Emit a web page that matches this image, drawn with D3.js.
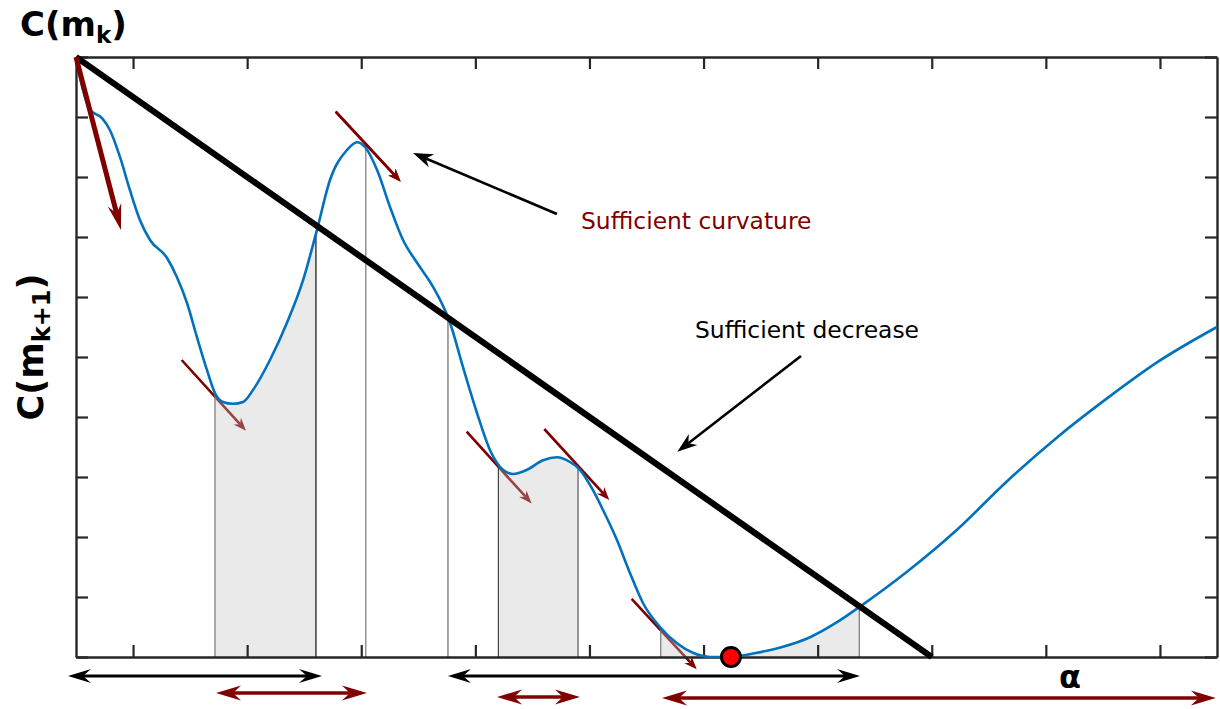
<!DOCTYPE html>
<html><head><meta charset="utf-8">
<script src="https://cdn.jsdelivr.net/npm/d3@7"></script>
<style>html,body{margin:0;padding:0;background:#fff;}svg{display:block;font-family:"DejaVu Sans",sans-serif;}</style>
</head><body><svg id="c" width="1220" height="709"></svg>
<script>
// ---- data ----
const alphaVals = [0,0.061,0.123,0.228,0.298,0.386,0.473,0.561,0.649,0.798,0.885,0.973,1.060,1.148,1.218,1.288,1.376,1.464,1.551,1.700,1.849,1.990,2.112,2.226,2.375,2.463,2.533,2.638,2.752,2.866,2.989,3.129,3.278,3.392,3.514,3.628,3.742,3.830,3.953,4.093,4.216,4.330,4.417,4.531,4.619,4.741,4.855,4.969,5.118,5.267,5.407,5.557,5.732,5.968,6.196,6.433,6.670,6.871,7.283,7.721,8.160,8.598,9.036,9.474,10.0];
const costVals  = [10,9.45,9.12,8.98,8.78,8.33,7.78,7.28,6.95,6.65,6.33,5.90,5.33,4.78,4.40,4.25,4.22,4.25,4.45,4.95,5.57,6.28,7.12,7.95,8.45,8.58,8.50,8.12,7.50,6.95,6.57,6.17,5.57,4.83,4.07,3.45,3.12,3.05,3.12,3.28,3.33,3.25,3.12,2.78,2.45,1.95,1.40,0.90,0.50,0.23,0.07,0.00,0.00,0.07,0.17,0.33,0.58,0.84,1.42,2.12,2.93,3.66,4.31,4.91,5.50];
const xTicks = [0.5,1.5,2.5,3.5,4.5,5.5,6.5,7.5,8.5,9.5];
const yTicks = [0,1,2,3,4,5,6,7,8,9,10];
const decreaseAlpha = [0, 7.5];
const decreaseCost = [10, 0];
const shadeStart = [1.218, 3.702, 5.125];
const shadeEnd   = [2.103, 4.400, 6.865];
const markAlpha  = [1.218, 2.103, 2.540, 3.260, 3.702, 4.400, 5.125, 6.865];
const tangentTailAlpha = [2.276, 0.926, 3.424, 4.104, 4.870];
const tangentTailCost  = [9.088, 4.950, 3.755, 3.800, 0.967];
const tangentTipAlpha  = [2.846, 1.490, 3.993, 4.674, 5.440];
const tangentTipCost   = [7.922, 3.770, 2.560, 2.617, -0.205];
const gradTailAlpha = [0], gradTailCost = [10];
const gradTipAlpha = [0.394], gradTipCost = [7.117];
const intervalStart = [-0.070, 1.227, 3.260, 3.690, 5.136];
const intervalEnd   = [2.156, 2.550, 6.871, 4.417, 9.990];
const minAlpha = [5.74], minCost = [0];
const noteText = ["Sufficient curvature", "Sufficient decrease"];
const noteAlpha = [4.426, 5.425], noteCost = [7.133, 5.317];
const noteTailAlpha = [4.215, 6.354], noteTailCost = [7.383, 5.017];
const noteTipAlpha  = [2.954, 5.270], noteTipCost  = [8.400, 3.420];

// ---- styles / layout ----
const PL = 76, PR = 1217, PT = 57, PB = 657;
const RED = "#800000", BLUE = "#0072BD", AX = "#262626";
const markColors = ["#777","#111","#777","#666","#444","#555","#777","#777"];
const intervalColors = ["#000", RED, "#000", RED, RED];
const intervalRowOffset = [19, 36, 19, 40, 41];

const svg = d3.select("#c");
const x = d3.scaleLinear().domain([0,10]).range([PL,PR]);
const y = d3.scaleLinear().domain([0,10]).range([PB,PT]);
const pts = alphaVals.map((a,i)=>[a,costVals[i]]);

function head(g, tx, ty, ux, uy, L, Wd, I, color){
  const nx=-uy, ny=ux, bx=tx-L*ux, by=ty-L*uy;
  const p=[[tx,ty],[bx+Wd*nx,by+Wd*ny],[tx-(L-I)*ux,ty-(L-I)*uy],[bx-Wd*nx,by-Wd*ny]];
  g.append("path").attr("d","M"+p.map(q=>q.join(",")).join("L")+"Z").attr("fill",color);
}
function arrow(g, x0,y0,x1,y1,o){
  const dx=x1-x0, dy=y1-y0, len=Math.hypot(dx,dy), ux=dx/len, uy=dy/len;
  let sx=x0, sy=y0;
  const ex=x1-(o.L-o.I)*ux, ey=y1-(o.L-o.I)*uy;
  if(o.both){ sx=x0+(o.L-o.I)*ux; sy=y0+(o.L-o.I)*uy; }
  g.append("line").attr("x1",sx).attr("y1",sy).attr("x2",ex).attr("y2",ey)
    .attr("stroke",o.color).attr("stroke-width",o.sw);
  head(g,x1,y1,ux,uy,o.L,o.W,o.I,o.color);
  if(o.both) head(g,x0,y0,-ux,-uy,o.L,o.W,o.I,o.color);
}

// tangent arrows (drawn under translucent shading)
const gT = svg.append("g");
tangentTailAlpha.forEach((a,i)=>{
  arrow(gT, x(a), y(tangentTailCost[i]), x(tangentTipAlpha[i]), y(tangentTipCost[i]),
    {L:13,W:5,I:4,sw:2.6,color:RED});
});

// shading
const line = d3.line().x(d=>x(d[0])).y(d=>y(d[1])).curve(d3.curveMonotoneX);
const area = d3.area().x(d=>x(d[0])).y0(y(0)).y1(d=>y(d[1])).curve(d3.curveMonotoneX);
const cp = svg.append("defs").append("clipPath").attr("id","shadeclip");
shadeStart.forEach((s,i)=>{
  cp.append("rect").attr("x",x(s)).attr("y",PT).attr("width",x(shadeEnd[i])-x(s)).attr("height",PB-PT);
});
svg.append("path").datum(pts).attr("d",area).attr("fill","#c4c4c4").attr("fill-opacity",0.35)
  .attr("clip-path","url(#shadeclip)");

// curve (measure first)
const curve = svg.append("path").datum(pts).attr("d",line).attr("fill","none");
const node = curve.node(), total = node.getTotalLength();
const samples=[];
for(let l=0;l<=total;l+=0.5){ samples.push(node.getPointAtLength(l)); }
function curveYpx(px){ let b=samples[0]; for(const s of samples){ if(Math.abs(s.x-px)<Math.abs(b.x-px)) b=s; } return b.y; }

// vertical marks
markAlpha.forEach((a,i)=>{
  svg.append("line").attr("x1",x(a)).attr("x2",x(a)).attr("y1",curveYpx(x(a))).attr("y2",y(0))
    .attr("stroke",markColors[i]).attr("stroke-width",1.2);
});

// axes (box with inward ticks)
const fmt = ()=>"";
function styleAxis(g){ g.selectAll("path.domain").attr("stroke",AX).attr("stroke-width",2.4);
  g.selectAll(".tick line").attr("stroke",AX).attr("stroke-width",2.2); g.selectAll("text").remove(); }
svg.append("g").attr("transform",`translate(0,${PB})`).call(d3.axisBottom(x).tickValues(xTicks).tickSizeInner(-12).tickSizeOuter(0).tickFormat(fmt)).call(styleAxis);
svg.append("g").attr("transform",`translate(0,${PT})`).call(d3.axisTop(x).tickValues(xTicks).tickSizeInner(-12).tickSizeOuter(0).tickFormat(fmt)).call(styleAxis);
svg.append("g").attr("transform",`translate(${PL},0)`).call(d3.axisLeft(y).tickValues(yTicks).tickSizeInner(-12).tickSizeOuter(0).tickFormat(fmt)).call(styleAxis);
svg.append("g").attr("transform",`translate(${PR},0)`).call(d3.axisRight(y).tickValues(yTicks).tickSizeInner(-12).tickSizeOuter(0).tickFormat(fmt)).call(styleAxis);

// blue curve
curve.attr("stroke",BLUE).attr("stroke-width",2.6).raise();

// peak tangent arrow sits above the curve
arrow(svg, x(tangentTailAlpha[0]), y(tangentTailCost[0]), x(tangentTipAlpha[0]), y(tangentTipCost[0]),
  {L:13,W:5,I:4,sw:2.6,color:RED});

// sufficient decrease line
svg.append("line").attr("x1",x(decreaseAlpha[0])).attr("y1",y(decreaseCost[0]))
  .attr("x2",x(decreaseAlpha[1])).attr("y2",y(decreaseCost[1]))
  .attr("stroke","#000").attr("stroke-width",6.2);

// gradient arrow
arrow(svg, x(gradTailAlpha[0]), y(gradTailCost[0]), x(gradTipAlpha[0]), y(gradTipCost[0]),
  {L:26,W:7,I:9,sw:5,color:RED});

// minimum point
svg.append("circle").attr("cx",x(minAlpha[0])).attr("cy",y(minCost[0])).attr("r",9.5)
  .attr("fill","#ff0000").attr("stroke","#000").attr("stroke-width",3);

// interval arrows below axis
intervalStart.forEach((s,i)=>{
  const yy = PB + intervalRowOffset[i];
  const isRed = intervalColors[i]===RED;
  arrow(svg, x(s), yy, x(intervalEnd[i]), yy,
    {L:isRed?25:23,W:isRed?7.5:7,I:8,sw:isRed?3.6:2.8,color:intervalColors[i],both:true});
});

// annotations
noteText.forEach((t,i)=>{
  arrow(svg, x(noteTailAlpha[i]), y(noteTailCost[i]), x(noteTipAlpha[i]), y(noteTipCost[i]),
    {L:20,W:7,I:6,sw:2.6,color:"#000"});
  svg.append("text").attr("x",x(noteAlpha[i])).attr("y",y(noteCost[i]))
    .attr("font-size",23.4).attr("fill",i===0?RED:"#000").text(t);
});

// labels
const t1 = svg.append("text").attr("x",20).attr("y",36).attr("font-size",34).attr("font-weight","bold").attr("fill","#000");
t1.append("tspan").text("C(m");
t1.append("tspan").attr("dy",7).attr("font-size",23).text("k");
t1.append("tspan").attr("dy",-7).text(")");

const t2 = svg.append("text").attr("transform","translate(43,347) rotate(-90)").attr("text-anchor","middle")
  .attr("font-size",35).attr("font-weight","bold").attr("fill","#000");
t2.append("tspan").text("C(m");
t2.append("tspan").attr("dy",7).attr("font-size",24).text("k+1");
t2.append("tspan").attr("dy",-7).text(")");

svg.append("text").attr("x",1059).attr("y",688).attr("font-size",32).attr("font-weight","bold").text("α");
</script></body></html>
